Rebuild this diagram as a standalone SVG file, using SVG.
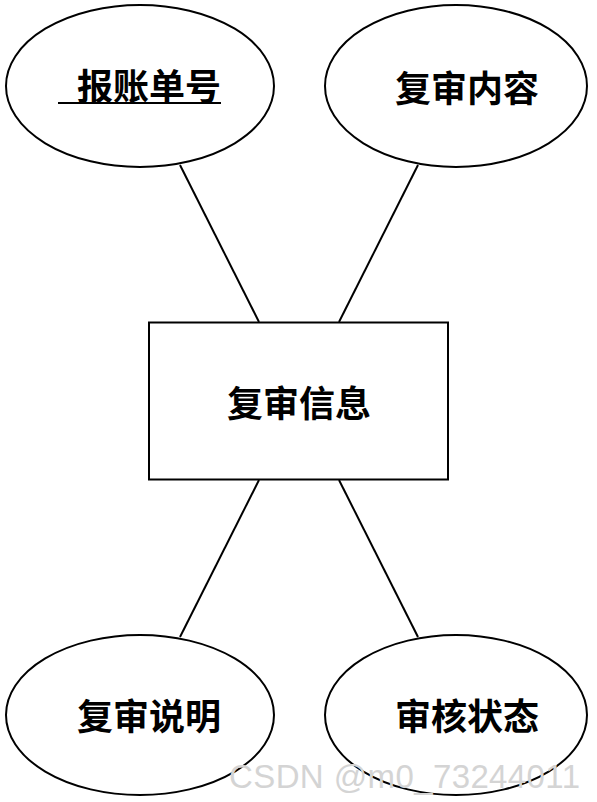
<svg xmlns="http://www.w3.org/2000/svg" width="597" height="802" viewBox="0 0 597 802">
<style>
.shape{fill:#fff;stroke:#000;stroke-width:2}
.lbl{font-family:"Noto Sans CJK SC","Noto Sans",sans-serif;font-size:36px;font-weight:bold;fill:#000;text-anchor:middle;dominant-baseline:central}
.edge{stroke:#000;stroke-width:2;fill:none}
.wm{font-family:"Liberation Sans","DejaVu Sans",sans-serif;font-size:33px;fill:#d4d4d4}
</style>
<rect width="597" height="802" fill="#fff"/>
<g id="connectors">
<line class="edge" x1="180" y1="165" x2="259" y2="322"/>
<line class="edge" x1="418" y1="165" x2="339" y2="322"/>
<line class="edge" x1="259" y1="480" x2="180" y2="637"/>
<line class="edge" x1="339" y1="480" x2="418" y2="637"/>
</g>
<g id="node-baozhangdanhao">
<ellipse class="shape" cx="140" cy="86" rx="134" ry="81"/>
<text class="lbl" x="149" y="84">报账单号</text>
<line x1="58" y1="103" x2="221" y2="103" stroke="#000" stroke-width="2"/>
</g>
<g id="node-fushenneirong">
<ellipse class="shape" cx="456" cy="86" rx="131" ry="81"/>
<text class="lbl" x="467" y="86">复审内容</text>
</g>
<g id="node-fushenxinxi">
<rect class="shape" x="149" y="322.5" width="299" height="157"/>
<text class="lbl" x="299" y="401">复审信息</text>
</g>
<g id="node-fushenshuoming">
<ellipse class="shape" cx="140" cy="715" rx="134" ry="80"/>
<text class="lbl" x="149" y="714">复审说明</text>
</g>
<g id="node-shenhezhuangtai">
<ellipse class="shape" cx="456" cy="715" rx="131" ry="80"/>
<text class="lbl" x="467" y="714">审核状态</text>
</g>
<text class="wm" x="229" y="788" textLength="351">CSDN @m0_73244011</text>
</svg>
